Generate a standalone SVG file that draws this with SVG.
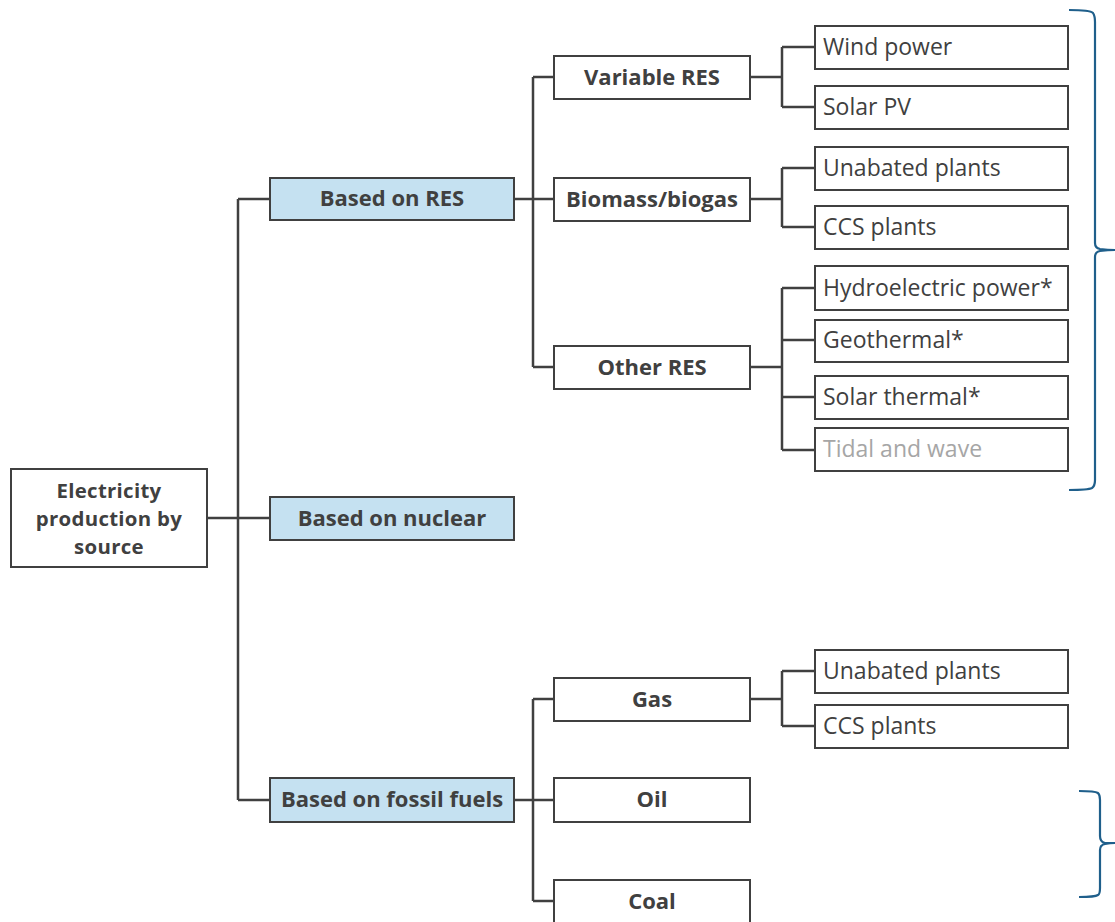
<svg xmlns="http://www.w3.org/2000/svg" width="1115" height="922" viewBox="0 0 1115 922">
<style>
.box{fill:#fff;stroke:#404040;stroke-width:2}
.blue{fill:#c5e1f1;stroke:#404040;stroke-width:2}
.b{font-family:"Open Sans","Liberation Sans",sans-serif;font-weight:bold;font-size:22px;fill:#404040;text-anchor:middle}
.r{font-size:20.4px;letter-spacing:0.3px}
.n{font-family:"Open Sans","Liberation Sans",sans-serif;font-size:23px;fill:#404040}
.g{fill:#a6a6a6}
.con{fill:none;stroke:#404040;stroke-width:2.5}
.brace{fill:none;stroke:#1f5f8b;stroke-width:2.2}
</style>
<rect width="1115" height="922" fill="#fff"/>
<g id="connectors">
<path class="con" d="M207 518H270M238 199V800M238 199H270M238 800H270"/>
<path class="con" d="M514 199H554M533 77V367M533 77H554M533 367H554"/>
<path class="con" d="M514 800H554M533 699V901M533 699H554M533 901H554"/>
<path class="con" d="M750 77H782M782 47V107M782 47H815M782 107H815"/>
<path class="con" d="M750 199H782M782 168V227M782 168H815M782 227H815"/>
<path class="con" d="M750 367H782M782 288V450M782 288H815M782 340H815M782 397H815M782 450H815"/>
<path class="con" d="M750 699H782M782 671V726M782 671H815M782 726H815"/>
</g>
<g id="root"><rect class="box" x="11" y="469" width="196" height="98"/>
<text class="b r" x="109" y="498">Electricity</text><text class="b r" x="109" y="526">production by</text><text class="b r" x="109" y="554">source</text></g>
<g id="res"><rect class="blue" x="270" y="178" width="244" height="42"/><text class="b" x="392" y="206">Based on RES</text></g>
<g id="nuclear"><rect class="blue" x="270" y="497" width="244" height="43"/><text class="b" x="392" y="526">Based on nuclear</text></g>
<g id="fossil"><rect class="blue" x="270" y="778" width="244" height="44"/><text class="b" x="392" y="807">Based on fossil fuels</text></g>
<g id="variable"><rect class="box" x="554" y="56" width="196" height="43"/><text class="b" x="652" y="85">Variable RES</text></g>
<g id="biomass"><rect class="box" x="554" y="178" width="196" height="43"/><text class="b" x="652" y="207">Biomass/biogas</text></g>
<g id="other"><rect class="box" x="554" y="346" width="196" height="43"/><text class="b" x="652" y="375">Other RES</text></g>
<g id="gas"><rect class="box" x="554" y="678" width="196" height="43"/><text class="b" x="652" y="707">Gas</text></g>
<g id="oil"><rect class="box" x="554" y="778" width="196" height="44"/><text class="b" x="652" y="807">Oil</text></g>
<g id="coal"><rect class="box" x="554" y="880" width="196" height="44"/><text class="b" x="652" y="909">Coal</text></g>
<g id="wind"><rect class="box" x="815" y="26" width="253" height="43"/><text class="n" x="823" y="55">Wind power</text></g>
<g id="solarpv"><rect class="box" x="815" y="86" width="253" height="43"/><text class="n" x="823" y="115">Solar PV</text></g>
<g id="bio-unabated"><rect class="box" x="815" y="147" width="253" height="43"/><text class="n" x="823" y="176">Unabated plants</text></g>
<g id="bio-ccs"><rect class="box" x="815" y="206" width="253" height="43"/><text class="n" x="823" y="235">CCS plants</text></g>
<g id="hydro"><rect class="box" x="815" y="266" width="253" height="44"/><text class="n" x="823" y="296">Hydroelectric power*</text></g>
<g id="geothermal"><rect class="box" x="815" y="320" width="253" height="42"/><text class="n" x="823" y="348">Geothermal*</text></g>
<g id="solarthermal"><rect class="box" x="815" y="376" width="253" height="43"/><text class="n" x="823" y="405">Solar thermal*</text></g>
<g id="tidal"><rect class="box" x="815" y="428" width="253" height="43"/><text class="n g" x="823" y="457">Tidal and wave</text></g>
<g id="gas-unabated"><rect class="box" x="815" y="650" width="253" height="43"/><text class="n" x="823" y="679">Unabated plants</text></g>
<g id="gas-ccs"><rect class="box" x="815" y="705" width="253" height="43"/><text class="n" x="823" y="734">CCS plants</text></g>
<g id="braces">
<path class="brace" d="M1069 10Q1090 10 1093 13Q1095 16 1095 22V243Q1095 248 1100 249Q1108 250 1115 250Q1108 250 1100 251Q1095 252 1095 257V480Q1095 486 1092 488Q1088 490 1069 490"/>
<path class="brace" d="M1079 791Q1095 791 1098 793Q1100 795 1100 800V836Q1100 842 1105 843Q1110 843 1115 843Q1110 843 1105 844Q1100 845 1100 850V888Q1100 894 1098 895Q1095 897 1079 897"/>
</g>
</svg>
